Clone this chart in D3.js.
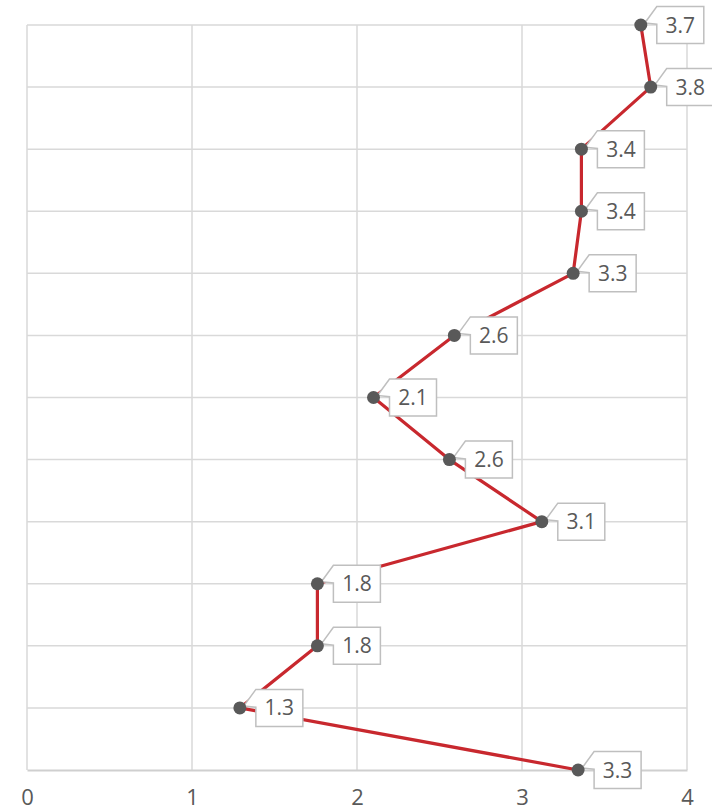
<!DOCTYPE html>
<html>
<head>
<meta charset="utf-8">
<script src="https://cdn.jsdelivr.net/npm/d3@7"></script>
<style>
  html, body { margin: 0; padding: 0; background: #fff; }
  svg { display: block; }
</style>
</head>
<body>
<svg id="chart" width="712" height="811"></svg>
<script>
// Series values, top row first
const rows = ["r1","r2","r3","r4","r5","r6","r7","r8","r9","r10","r11","r12","r13"];
const values = [3.72, 3.78, 3.36, 3.36, 3.31, 2.59, 2.10, 2.56, 3.12, 1.76, 1.76, 1.29, 3.34];
const xTicks = [0, 1, 2, 3, 4];

const svg = d3.select("#chart");
const plotLeft = 27, plotRight = 687, plotTop = 25, plotBottom = 770;

const x = d3.scaleLinear().domain([0, 4]).range([plotLeft, plotRight]);
const y = d3.scalePoint().domain(rows).range([plotTop, plotBottom]);

const grid = "#d9d9d9";
const textColor = "#595959";
const font = "'Open Sans', sans-serif";

// vertical gridlines
svg.append("g").selectAll("line").data(xTicks).join("line")
  .attr("x1", d => x(d)).attr("x2", d => x(d))
  .attr("y1", plotTop).attr("y2", plotBottom)
  .attr("stroke", grid).attr("stroke-width", 1.5);

// horizontal gridlines at each row
svg.append("g").selectAll("line").data(rows.slice(0, -1)).join("line")
  .attr("x1", plotLeft).attr("x2", plotRight)
  .attr("y1", d => y(d)).attr("y2", d => y(d))
  .attr("stroke", grid).attr("stroke-width", 1.5);

// bottom value axis
const axis = d3.axisBottom(x).tickValues(xTicks).tickSize(0).tickPadding(19).tickFormat(d3.format("d"));
const ax = svg.append("g").attr("transform", `translate(0,${plotBottom})`).call(axis);
ax.select(".domain").attr("stroke", "#cfcfcf").attr("stroke-width", 2);
ax.selectAll("text")
  .attr("fill", textColor)
  .style("font-family", font)
  .style("font-size", "22px");

// series line
const pts = rows.map((r, i) => ({ r, v: values[i] }));
svg.append("path")
  .datum(pts)
  .attr("fill", "none")
  .attr("stroke", "#c8282e")
  .attr("stroke-width", 3.2)
  .attr("stroke-linejoin", "round")
  .attr("d", d3.line().x(d => x(d.v)).y(d => y(d.r)));

// callout labels
const fmt = d3.format(".1f");
const boxW = 47, boxH = 37;
const labels = svg.append("g").selectAll("g").data(pts).join("g");
labels.append("path")
  .attr("fill", "#fff")
  .attr("stroke", "#bfbfbf")
  .attr("stroke-width", 1.5)
  .attr("d", d => {
    const px = x(d.v), py = y(d.r);
    const bx = px + 16, by = py - boxH / 2;
    return `M${bx},${by}H${bx + boxW}V${by + boxH}H${bx}V${by + boxH * 0.48}` +
           `L${px + 4},${py - 2}L${bx},${by}Z`;
  });
labels.append("text")
  .attr("x", d => x(d.v) + 16 + boxW / 2)
  .attr("y", d => y(d.r))
  .attr("dy", "0.36em")
  .attr("text-anchor", "middle")
  .attr("fill", textColor)
  .style("font-family", font)
  .style("font-size", "21px")
  .text(d => fmt(d.v));

// markers
svg.append("g").selectAll("circle").data(pts).join("circle")
  .attr("cx", d => x(d.v)).attr("cy", d => y(d.r))
  .attr("r", 6.5)
  .attr("fill", "#595959");
</script>
</body>
</html>
